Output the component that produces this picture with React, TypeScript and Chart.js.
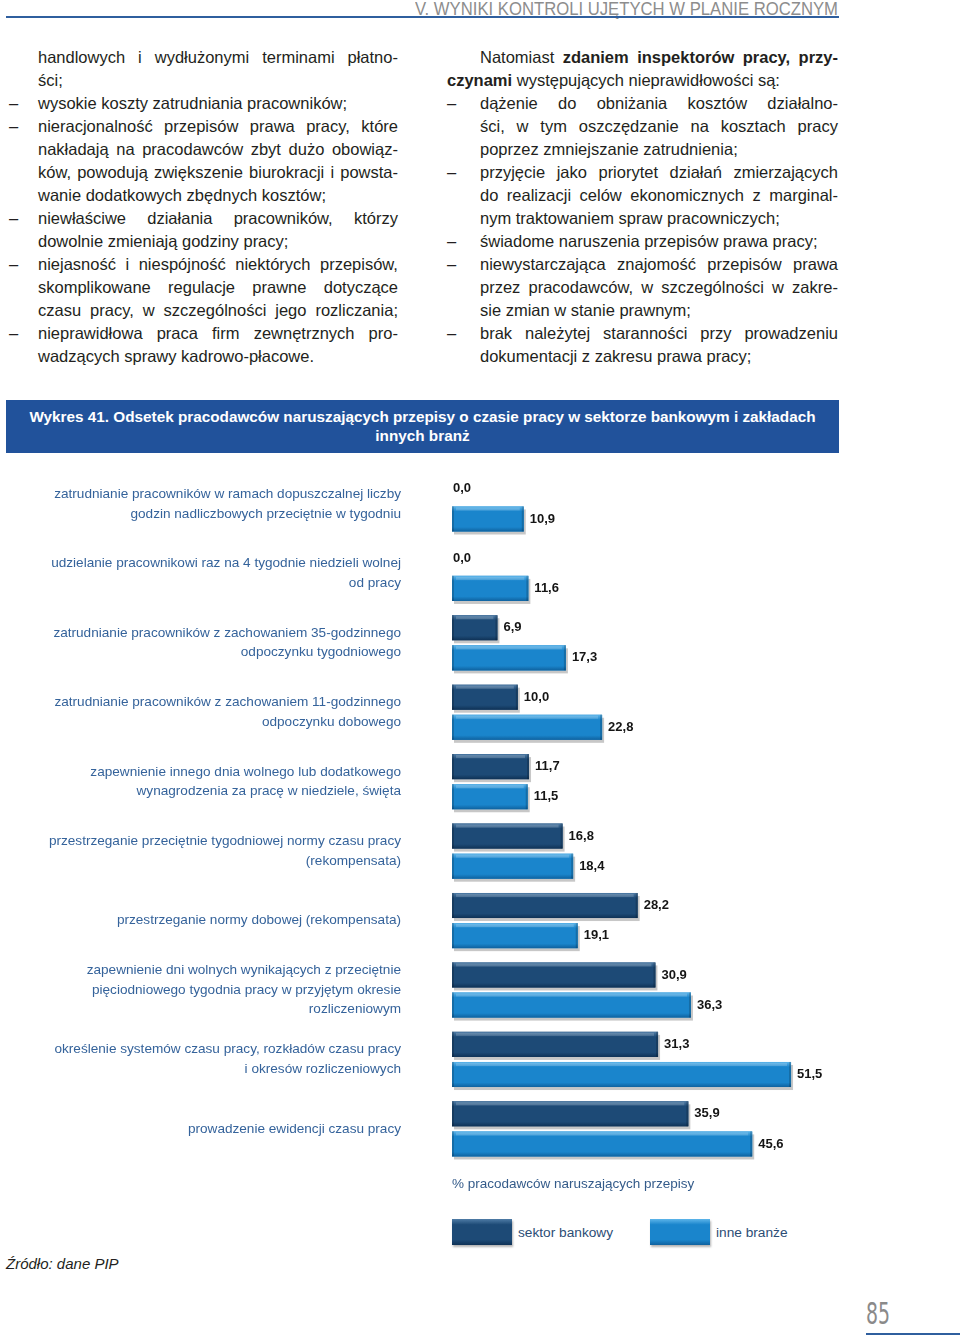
import React, { useEffect, useLayoutEffect, useRef } from "react";
import { Chart, registerables } from "chart.js";

Chart.register(...registerables);

// ---------------- chart data ----------------
const categories: (string | string[])[] = [
  ["zatrudnianie pracowników w ramach dopuszczalnej liczby", "godzin nadliczbowych przeciętnie w tygodniu"],
  ["udzielanie pracownikowi raz na 4 tygodnie niedzieli wolnej", "od pracy"],
  ["zatrudnianie pracowników z zachowaniem 35-godzinnego", "odpoczynku tygodniowego"],
  ["zatrudnianie pracowników z zachowaniem 11-godzinnego", "odpoczynku dobowego"],
  ["zapewnienie innego dnia wolnego lub dodatkowego", "wynagrodzenia za pracę w niedziele, święta"],
  ["przestrzeganie przeciętnie tygodniowej normy czasu pracy", "(rekompensata)"],
  "przestrzeganie normy dobowej (rekompensata)",
  ["zapewnienie dni wolnych wynikających z przeciętnie", "pięciodniowego tygodnia pracy w przyjętym okresie", "rozliczeniowym"],
  ["określenie systemów czasu pracy, rozkładów czasu pracy", "i okresów rozliczeniowych"],
  "prowadzenie ewidencji czasu pracy",
];
const bankValues = [0.0, 0.0, 6.9, 10.0, 11.7, 16.8, 28.2, 30.9, 31.3, 35.9];
const otherValues = [10.9, 11.6, 17.3, 22.8, 11.5, 18.4, 19.1, 36.3, 51.5, 45.6];
const seriesNames = ["sektor bankowy", "inne branże"];
const seriesColors = ["#1d4a76", "#1a85cc"];
const seriesHighlights = ["#4f7ca6", "#5db5ea"];
const seriesShades = ["#0f3256", "#0f629f"];
const axisTitle = "% pracodawców naruszających przepisy";
const chartTitle = [
  "Wykres 41. Odsetek pracodawców naruszających przepisy o czasie pracy w sektorze bankowym i zakładach",
  "innych branż",
];
const xMax = 60;

// ---------------- page text ----------------
type Seg = { t: string; b?: boolean };
type Line = { segs: Seg[]; dash?: boolean; justify?: boolean; indent?: boolean };
const L = (t: string, justify = false, dash = false): Line => ({ segs: [{ t }], justify, dash });

const leftLines: Line[] = [
  L("handlowych i wydłużonymi terminami płatno-", true),
  L("ści;"),
  L("wysokie koszty zatrudniania pracowników;", false, true),
  L("nieracjonalność przepisów prawa pracy, które", true, true),
  L("nakładają na pracodawców zbyt dużo obowiąz-", true),
  L("ków, powodują zwiększenie biurokracji i powsta-", true),
  L("wanie dodatkowych zbędnych kosztów;"),
  L("niewłaściwe działania pracowników, którzy", true, true),
  L("dowolnie zmieniają godziny pracy;"),
  L("niejasność i niespójność niektórych przepisów,", true, true),
  L("skomplikowane regulacje prawne dotyczące", true),
  L("czasu pracy, w szczególności jego rozliczania;", true),
  L("nieprawidłowa praca firm zewnętrznych pro-", true, true),
  L("wadzących sprawy kadrowo-płacowe."),
];

const rightLines: Line[] = [
  { segs: [{ t: "Natomiast" }, { t: "zdaniem inspektorów pracy, przy-", b: true }], justify: true, indent: true },
  { segs: [{ t: "czynami", b: true }, { t: " występujących nieprawidłowości są:" }], indent: false, justify: false, dash: false },
  L("dążenie do obniżania kosztów działalno-", true, true),
  L("ści, w tym oszczędzanie na kosztach pracy", true),
  L("poprzez zmniejszanie zatrudnienia;"),
  L("przyjęcie jako priorytet działań zmierzających", true, true),
  L("do realizacji celów ekonomicznych z marginal-", true),
  L("nym traktowaniem spraw pracowniczych;"),
  L("świadome naruszenia przepisów prawa pracy;", false, true),
  L("niewystarczająca znajomość przepisów prawa", true, true),
  L("przez pracodawców, w szczególności w zakre-", true),
  L("sie zmian w stanie prawnym;"),
  L("brak należytej staranności przy prowadzeniu", true, true),
  L("dokumentacji z zakresu prawa pracy;"),
];

const FONT = "'Liberation Sans', Arial, Helvetica, sans-serif";
const TEXT = "#231f20";
const BLUE_LINE = "#2f5f9e";

function TextLine({ line, x, y, w }: { line: Line; x: number; y: number; w: number }) {
  const base: React.CSSProperties = {
    position: "absolute",
    left: x,
    top: y,
    height: 23,
    lineHeight: "23px",
    whiteSpace: "nowrap",
  };
  if (line.justify) {
    const words: Seg[] = [];
    line.segs.forEach((s) =>
      s.t.split(" ").filter(Boolean).forEach((t) => words.push({ t, b: s.b }))
    );
    return (
      <div style={{ ...base, width: w, display: "flex", justifyContent: "space-between" }}>
        {words.map((wd, i) => (
          <span key={i} style={{ fontWeight: wd.b ? 700 : 400 }}>{wd.t}</span>
        ))}
      </div>
    );
  }
  return (
    <div style={base}>
      {line.segs.map((s, i) => (
        <span key={i} style={{ fontWeight: s.b ? 700 : 400 }}>{s.t}</span>
      ))}
    </div>
  );
}

function Column({ lines, dashX, textX, paraX, right }: { lines: Line[]; dashX: number; textX: number; paraX: number; right: number }) {
  return (
    <>
      {lines.map((ln, i) => {
        const y = 46 + i * 23;
        let x = textX;
        if (ln.indent === false) x = paraX;
        return (
          <React.Fragment key={i}>
            {ln.dash && (
              <div style={{ position: "absolute", left: dashX, top: y, lineHeight: "23px" }}>–</div>
            )}
            <TextLine line={ln} x={x} y={y} w={right - x} />
          </React.Fragment>
        );
      })}
    </>
  );
}

function FitText({ text, width, style }: { text: string; width: number; style: React.CSSProperties }) {
  const ref = useRef<HTMLSpanElement>(null);
  useLayoutEffect(() => {
    const el = ref.current;
    if (!el) return;
    el.style.transform = "none";
    const w = el.getBoundingClientRect().width;
    if (w > 0) el.style.transform = `scaleX(${width / w})`;
  }, [text, width]);
  return (
    <span ref={ref} style={{ display: "inline-block", whiteSpace: "nowrap", transformOrigin: "left top", ...style }}>
      {text}
    </span>
  );
}

const fmt = (v: number) => v.toFixed(1).replace(".", ",");

const bevelPlugin = {
  id: "bevel",
  beforeDatasetsDraw(chart: any) {
    const ctx = chart.ctx;
    ctx.save();
    chart.data.datasets.forEach((_: any, di: number) => {
      const meta = chart.getDatasetMeta(di);
      meta.data.forEach((el: any) => {
        const { x, y, base, height } = el.getProps(["x", "y", "base", "height"], true);
        const left = Math.min(x, base);
        const w = Math.abs(x - base);
        if (w < 1) return;
        ctx.fillStyle = "rgba(0,0,0,0.22)";
        ctx.fillRect(left + 2, y - height / 2 + 3, w, height);
      });
    });
    ctx.restore();
  },
  afterDatasetsDraw(chart: any) {
    const ctx = chart.ctx;
    ctx.save();
    chart.data.datasets.forEach((ds: any, di: number) => {
      const meta = chart.getDatasetMeta(di);
      meta.data.forEach((el: any, i: number) => {
        const { x, y, base, height } = el.getProps(["x", "y", "base", "height"], true);
        const left = Math.min(x, base);
        const w = Math.abs(x - base);
        const top = y - height / 2;
        if (w >= 1) {
          const g = ctx.createLinearGradient(0, top, 0, top + height);
          g.addColorStop(0, seriesHighlights[di]);
          g.addColorStop(0.2, seriesColors[di]);
          g.addColorStop(0.82, seriesColors[di]);
          g.addColorStop(1, seriesShades[di]);
          ctx.fillStyle = g;
          ctx.fillRect(left, top, w, height);
          ctx.fillStyle = "rgba(255,255,255,0.18)";
          ctx.fillRect(left + 4, top + 1, Math.max(0, w - 8), 3);
          ctx.fillStyle = "rgba(0,0,0,0.18)";
          ctx.fillRect(left, top, 2, height);
          ctx.fillRect(left + w - 2, top, 2, height);
        }
        ctx.fillStyle = "#151515";
        ctx.font = `bold 13px ${FONT}`;
        ctx.textBaseline = "middle";
        ctx.textAlign = "left";
        ctx.fillText(fmt(ds.data[i]), w >= 1 ? Math.max(x, base) + 6 : Math.max(x, base) + 1, y);
      });
    });
    ctx.restore();
  },
};

function BarChart() {
  const ref = useRef<HTMLCanvasElement>(null);
  useEffect(() => {
    if (!ref.current) return;
    const chart = new Chart(ref.current, {
      type: "bar",
      data: {
        labels: categories as any,
        datasets: [
          { label: seriesNames[0], data: bankValues, backgroundColor: seriesColors[0], categoryPercentage: 0.867, barPercentage: 0.833 },
          { label: seriesNames[1], data: otherValues, backgroundColor: seriesColors[1], categoryPercentage: 0.867, barPercentage: 0.833 },
        ],
      },
      options: {
        indexAxis: "y",
        animation: false,
        responsive: false,
        devicePixelRatio: 1,
        layout: { padding: { top: 9.2, bottom: 3.2, left: 0, right: 113 } },
        plugins: { legend: { display: false }, tooltip: { enabled: false } },
        scales: {
          x: {
            min: 0,
            max: xMax,
            grid: { display: false, drawTicks: false },
            border: { display: false },
            ticks: { display: false },
            title: {
              display: true,
              text: axisTitle,
              align: "start",
              color: "#345b8a",
              font: { family: FONT, size: 13.5 },
              padding: { top: 13, bottom: 4 },
            },
            afterFit(scale: any) {
              scale.paddingLeft = 0;
              scale.paddingRight = 0;
            },
          },
          y: {
            grid: { display: false, drawTicks: false },
            border: { display: false },
            ticks: {
              color: "#35639b",
              font: { family: FONT, size: 13.6, lineHeight: 1.45 },
              padding: 51,
              autoSkip: false,
            },
            afterFit(scale: any) {
              scale.width = 452;
              scale.paddingTop = 0;
              scale.paddingBottom = 0;
            },
          },
        },
      } as any,
      plugins: [bevelPlugin],
    });
    return () => chart.destroy();
  }, []);
  return <canvas ref={ref} width={960} height={740} style={{ position: "absolute", left: 0, top: 460, width: 960, height: 740 }} />;
}

function LegendSwatch({ i }: { i: number }) {
  return (
    <div
      style={{
        width: 60,
        height: 26,
        background: `linear-gradient(to bottom, ${seriesHighlights[i]} 0%, ${seriesColors[i]} 22%, ${seriesColors[i]} 80%, ${seriesShades[i]} 100%)`,
        boxShadow: "1px 2px 2px rgba(0,0,0,0.3)",
      }}
    />
  );
}

export default function App() {
  useEffect(() => {
    document.body.style.margin = "0";
    document.body.style.overflow = "hidden";
  }, []);
  return (
    <div style={{ position: "absolute", left: 0, top: 0, width: 960, height: 1339, overflow: "hidden", background: "#fff", fontFamily: FONT, color: TEXT }}>
      {/* header */}
      <div style={{ position: "absolute", left: 415, top: 0, height: 18, lineHeight: "18px", color: "#8d8d8d" }}>
        <FitText text="V. WYNIKI KONTROLI UJĘTYCH W PLANIE ROCZNYM" width={423} style={{ fontSize: 19, fontWeight: 300 }} />
      </div>
      <div style={{ position: "absolute", left: 6, top: 16, width: 833, height: 2, background: BLUE_LINE }} />

      {/* text columns */}
      <div style={{ fontSize: 16.5 }}>
        <Column lines={leftLines} dashX={9} textX={38} paraX={38} right={398} />
        <Column lines={rightLines} dashX={447} textX={480} paraX={447} right={838} />
      </div>

      {/* chart title */}
      <div
        style={{
          position: "absolute",
          left: 6,
          top: 400,
          width: 833,
          height: 53,
          background: "#21529b",
          color: "#fff",
          fontWeight: 700,
          fontSize: 15.3,
          lineHeight: "19px",
          textAlign: "center",
          paddingTop: 7,
          boxSizing: "border-box",
          whiteSpace: "nowrap",
        }}
      >
        {chartTitle[0]}
        <br />
        {chartTitle[1]}
      </div>

      <BarChart />

      {/* legend */}
      {seriesNames.map((name, i) => (
        <div key={name} style={{ position: "absolute", left: i === 0 ? 452 : 650, top: 1219, display: "flex", alignItems: "center" }}>
          <LegendSwatch i={i} />
          <span style={{ marginLeft: 6, fontSize: 13.7, color: "#2c4d75" }}>{name}</span>
        </div>
      ))}

      {/* source */}
      <div style={{ position: "absolute", left: 6, top: 1255, fontSize: 15, lineHeight: "18px", fontStyle: "italic" }}>
        Źródło: dane PIP
      </div>

      {/* page number */}
      <div style={{ position: "absolute", left: 866, top: 1298, height: 32, lineHeight: "32px", color: "#8a8a8a" }}>
        <FitText text="85" width={24} style={{ fontSize: 30, fontFamily: "'Liberation Sans Narrow', 'DejaVu Sans Condensed', sans-serif", fontWeight: 300 }} />
      </div>
      <div style={{ position: "absolute", left: 866, top: 1333, width: 94, height: 2, background: BLUE_LINE }} />
    </div>
  );
}
